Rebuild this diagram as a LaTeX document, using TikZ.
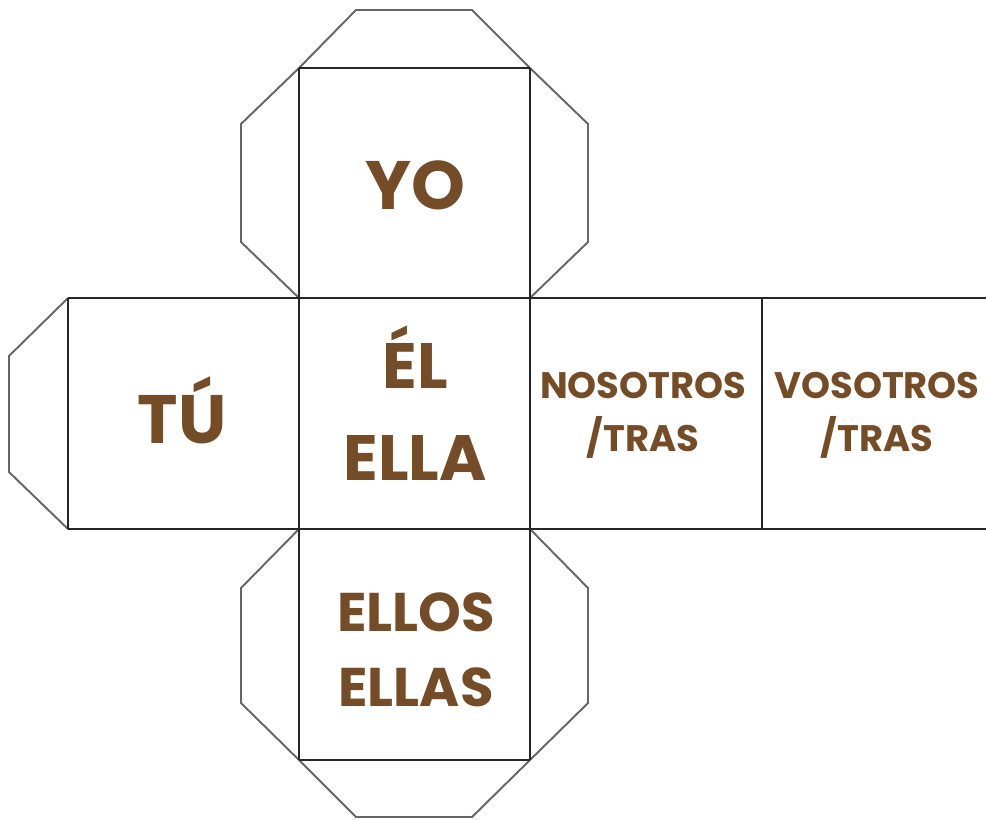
\documentclass[tikz,border=0pt]{standalone}
\usepackage{fontspec}
\setmainfont{Poppins}
\usepackage{tikz}
\definecolor{cafe}{HTML}{744C28}

\begin{document}
\begin{tikzpicture}[x=0.02cm,y=-0.02cm,
    face/.style={line width=1.5pt,black!85},
    tab/.style={line width=1.1pt,black!60},
    big/.style={anchor=base,text=cafe,font=\bfseries\fontsize{39}{39}\selectfont},
    mid/.style={anchor=base,text=cafe,font=\bfseries\fontsize{36.5}{36.5}\selectfont},
    small/.style={anchor=base,text=cafe,font=\bfseries\fontsize{31}{31}\selectfont},
    tiny/.style={anchor=base,text=cafe,font=\bfseries\fontsize{21}{21}\selectfont}]
  \useasboundingbox (0,0) rectangle (986,819);
  % tabs
  \draw[tab] (299,68)--(356,10)--(472,10)--(530,68);
  \draw[tab] (299,68)--(241,124)--(241,242)--(299,298);
  \draw[tab] (530,68)--(588,124)--(588,242)--(530,298);
  \draw[tab] (68,298)--(9,356)--(9,472)--(68,529);
  \draw[tab] (299,529)--(241,588)--(241,703)--(299,760);
  \draw[tab] (530,529)--(588,588)--(588,703)--(530,760);
  \draw[tab] (299,760)--(356,817)--(472,817)--(530,760);
  % faces
  \draw[face] (68,298)--(986,298) (68,529)--(986,529);
  \draw[face] (299,68)--(530,68) (299,760)--(530,760);
  \draw[face] (299,68)--(299,760) (530,68)--(530,760);
  \draw[face] (68,298)--(68,529) (762,298)--(762,529);
  % labels
  \node[big] (yo) at (415,209) {YO};
  \node[big] (tu) at (182,443) {TÚ};
  \node[mid] (el) at (415,388) {ÉL};
  \node[mid] (ella) at (415,480) {ELLA};
  \node[tiny] (nos) at (643,398) {NOSOTROS};
  \node[tiny] (nostras) at (643,451) {/TRAS};
  \node[tiny] (vos) at (877,398) {VOSOTROS};
  \node[tiny] (vostras) at (877,451) {/TRAS};
  \node[small] (ellos) at (416,631) {ELLOS};
  \node[small] (ellas) at (416,706) {ELLAS};
\end{tikzpicture}
\end{document}
